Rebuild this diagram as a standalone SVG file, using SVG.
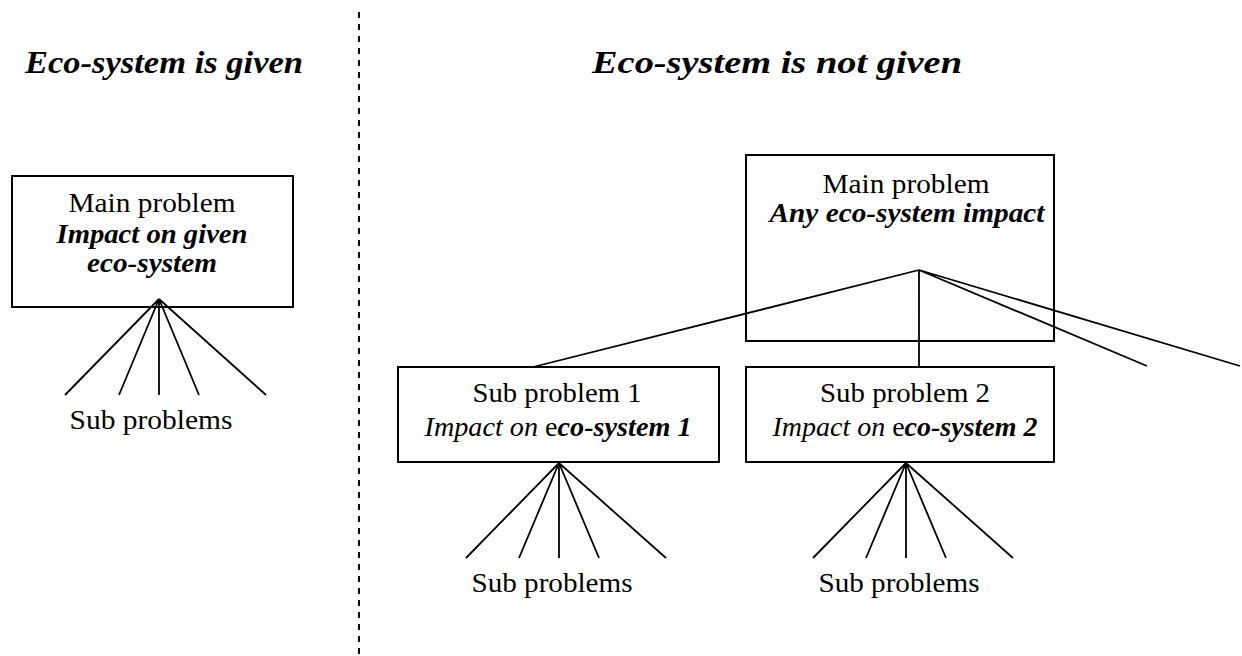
<svg xmlns="http://www.w3.org/2000/svg" width="1242" height="656" viewBox="0 0 1242 656">
<style>
.box{fill:#fff;stroke:#000;stroke-width:2}
.t{font-family:"Liberation Serif","Times New Roman",serif;font-size:27px;fill:#000;text-anchor:middle}
.title{font-family:"Liberation Serif","Times New Roman",serif;font-size:31px;font-weight:bold;font-style:italic;fill:#000}
.bi{font-weight:bold;font-style:italic}
.i{font-style:italic}
.ln{stroke:#000;stroke-width:1.8;fill:none}
.dash{stroke:#000;stroke-width:2;stroke-dasharray:6 6}
</style>
<rect width="1242" height="656" fill="#fff"/>
<g id="titles">
<text class="title" x="25" y="73" textLength="278" lengthAdjust="spacingAndGlyphs">Eco-system is given</text>
<text class="title" x="592" y="73" textLength="370" lengthAdjust="spacingAndGlyphs">Eco-system is not given</text>
</g>
<g id="divider"><line class="dash" x1="359" y1="12" x2="359" y2="656"/></g>
<g id="left-main">
<rect class="box" x="12" y="176" width="281" height="131"/>
<text class="t" x="152" y="212" textLength="167" lengthAdjust="spacingAndGlyphs">Main problem</text>
<text class="t bi" x="152" y="243" textLength="191" lengthAdjust="spacingAndGlyphs">Impact on given</text>
<text class="t bi" x="152" y="272" textLength="130" lengthAdjust="spacingAndGlyphs">eco-system</text>
</g>
<g id="left-subs"><text class="t" x="151" y="429" textLength="163" lengthAdjust="spacingAndGlyphs">Sub problems</text></g>
<g id="right-main">
<rect class="box" x="746" y="155" width="308" height="186"/>
<text class="t" x="906" y="193" textLength="167" lengthAdjust="spacingAndGlyphs">Main problem</text>
<text class="t bi" x="907" y="222" textLength="275" lengthAdjust="spacingAndGlyphs">Any eco-system impact</text>
</g>
<g id="sub1">
<rect class="box" x="398" y="367" width="321" height="95"/>
<text class="t" x="557" y="402" textLength="169" lengthAdjust="spacingAndGlyphs">Sub problem 1</text>
<text class="t" x="558" y="436" textLength="267" lengthAdjust="spacingAndGlyphs"><tspan class="i">Impact on</tspan> e<tspan class="bi">co-system 1</tspan></text>
</g>
<g id="sub2">
<rect class="box" x="746" y="367" width="308" height="95"/>
<text class="t" x="905" y="402" textLength="170" lengthAdjust="spacingAndGlyphs">Sub problem 2</text>
<text class="t" x="905" y="436" textLength="265" lengthAdjust="spacingAndGlyphs"><tspan class="i">Impact on</tspan> e<tspan class="bi">co-system 2</tspan></text>
</g>
<g id="sub1-subs"><text class="t" x="552" y="592" textLength="161" lengthAdjust="spacingAndGlyphs">Sub problems</text></g>
<g id="sub2-subs"><text class="t" x="899" y="592" textLength="161" lengthAdjust="spacingAndGlyphs">Sub problems</text></g>
<g id="connectors">
<path class="ln" d="M159 299L65 395M159 299L119 395M159 299L159 395M159 299L199 395M159 299L266 395"/>
<path class="ln" d="M919 270L533 367M919 270L919 367M919 270L1147 366M919 270L1240 366"/>
<path class="ln" d="M559 463L466 558M559 463L519 558M559 463L559 558M559 463L599 558M559 463L666 558"/>
<path class="ln" d="M906 463L813 558M906 463L866 558M906 463L906 558M906 463L946 558M906 463L1013 558"/>
</g>
</svg>
